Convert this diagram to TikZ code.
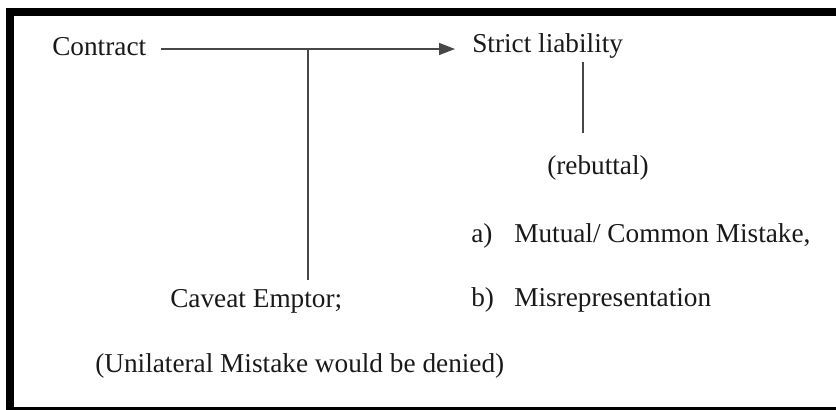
\documentclass[tikz,border=0pt]{standalone}
\usepackage{fontspec}
\setmainfont{Liberation Serif}
\usetikzlibrary{arrows.meta}
\tikzset{
	label text/.style={anchor=base west, inner sep=0pt, text=black!90, font=\fontsize{19.4}{22}\selectfont},
	link/.style={line width=0.035cm, color=black!72},
}

\begin{document}
\begin{tikzpicture}
			%%%%% START %%%%%
			\useasboundingbox (0, 0) rectangle (20.9, 10.25);
			
			\fill[black] (0.15, 10.05) rectangle (20.9, 9.85);
			\fill[black] (0.15, 10.05) rectangle (0.35, 0);
			\fill[black] (0.15, 0.075) rectangle (20.9, 0);
			
			\node[label text] (contract) at (1.3, 8.85) {Contract};
			\node[label text] (strict) at (11.8, 8.925) {Strict liability};
			\node[label text] (rebuttal) at (13.675, 5.875) {(rebuttal)};
			\node[label text] (itema) at (11.775, 4.175) {a)};
			\node[label text] (mutual) at (12.85, 4.175) {Mutual/ Common Mistake,};
			\node[label text] (itemb) at (11.775, 2.575) {b)};
			\node[label text] (misrep) at (12.85, 2.575) {Misrepresentation};
			\node[label text] (caveat) at (4.25, 2.55) {Caveat Emptor;};
			\node[label text] (unilateral) at (2.375, 0.925) {(Unilateral Mistake would be denied)};
			
			\coordinate (start) at (4.025, 9.025);
			\coordinate (tip) at (11.375, 9.025);
			\coordinate (split) at (7.7, 9.025);
			\coordinate (splitend) at (7.7, 3.25);
			\coordinate (rebtop) at (14.575, 8.7);
			\coordinate (rebbottom) at (14.575, 6.925);
			
			\draw[link, -{Triangle[length=0.4cm, width=0.3cm]}] (start) -- (tip);
			\draw[link] (split) -- (splitend);
			\draw[link] (rebtop) -- (rebbottom);
			
			%%%%% END %%%%%
		\end{tikzpicture}
\end{document}
